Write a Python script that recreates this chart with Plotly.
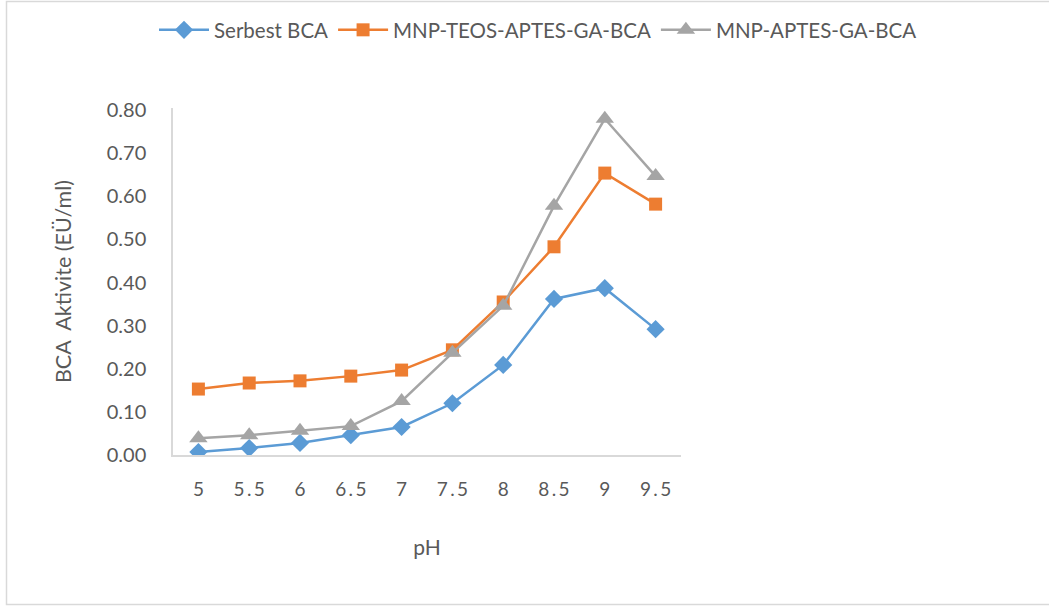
import plotly.graph_objects as go

# pH values (category axis) and activity measurements (EÜ/ml)
ph_labels = ["5", "5.5", "6", "6.5", "7", "7.5", "8", "8.5", "9", "9.5"]
serbest_bca = [0.007, 0.016, 0.028, 0.046, 0.065, 0.120, 0.209, 0.362, 0.387, 0.292]
mnp_teos_aptes_ga_bca = [0.153, 0.167, 0.172, 0.183, 0.197, 0.244, 0.355, 0.483, 0.654, 0.582]
mnp_aptes_ga_bca = [0.039, 0.046, 0.056, 0.067, 0.125, 0.237, 0.346, 0.578, 0.780, 0.647]
y_ticks = [0.0, 0.1, 0.2, 0.3, 0.4, 0.5, 0.6, 0.7, 0.8]

# tick text drawn with thin spaces around the decimal point
tick_text = [s.replace(".", "\u2009.\u2009") for s in ph_labels]

FONT = "Lato, Carlito, Calibri, sans-serif"
TXT = "#595959"

fig = go.Figure()
series = [
    ("Serbest BCA", serbest_bca, "#5B9BD5", "diamond", 14),
    ("MNP-TEOS-APTES-GA-BCA", mnp_teos_aptes_ga_bca, "#ED7D31", "square", 13),
    ("MNP-APTES-GA-BCA", mnp_aptes_ga_bca, "#A5A5A5", "triangle-up", 16),
]
for name, vals, col, sym, sz in series:
    fig.add_trace(go.Scatter(
        x=ph_labels, y=vals, name=name, mode="lines+markers",
        line=dict(color=col, width=2.5),
        marker=dict(symbol=sym, size=sz, color=col, line=dict(width=0)),
    ))

fig.update_layout(
    width=1049, height=607,
    margin=dict(l=173, r=368, t=108, b=152, autoexpand=False),
    paper_bgcolor="white", plot_bgcolor="white",
    font=dict(family=FONT, size=20, color=TXT),
    showlegend=True,
    legend=dict(
        orientation="h", x=(922 - 173) / 508, y=(455 - 30) / 347,
        xanchor="right", yanchor="middle",
        font=dict(family=FONT, size=20.5, color=TXT),
        itemwidth=50, tracegroupgap=0, bgcolor="rgba(0,0,0,0)",
    ),
    xaxis=dict(
        type="category", range=[-0.5, 9.5],
        tickmode="array", tickvals=ph_labels, ticktext=tick_text,
        showgrid=False, zeroline=False,
        showline=True, linecolor="#D9D9D9", linewidth=1.5,
        ticks="", ticklabelstandoff=16,
        tickfont=dict(family=FONT, size=19, color=TXT),
        title=dict(text="pH", font=dict(family=FONT, size=21, color=TXT), standoff=42),
    ),
    yaxis=dict(
        range=[0, 0.805],
        tickmode="array", tickvals=y_ticks,
        ticktext=[f"{v:.2f}" for v in y_ticks],
        showgrid=False, zeroline=False,
        showline=True, linecolor="#D9D9D9", linewidth=1.5,
        ticks="", ticklabelstandoff=21,
        tickfont=dict(family=FONT, size=20, color=TXT),
        title=dict(text="BCA  Aktivite (EÜ/ml)", font=dict(family=FONT, size=21.5, color=TXT), standoff=29),
    ),
    shapes=[dict(
        type="rect", xref="paper", yref="paper",
        x0=(6.5 - 173) / 508, x1=(1052 - 173) / 508,
        y0=(455 - 604.5) / 347, y1=(455 - 1.5) / 347,
        line=dict(color="#D9D9D9", width=1.5), fillcolor="rgba(0,0,0,0)", layer="below",
    )],
)

fig.write_html("out.html")
